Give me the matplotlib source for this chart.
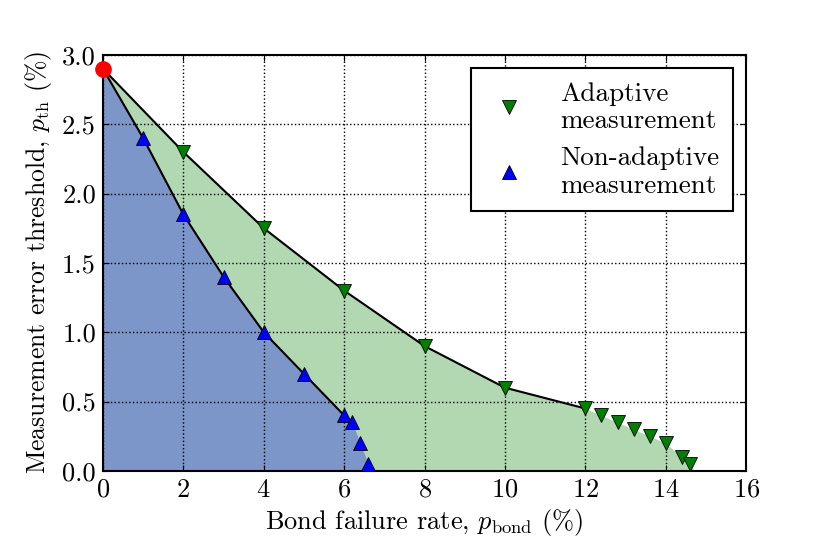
import matplotlib
matplotlib.use("Agg")
import matplotlib.pyplot as plt
import numpy as np

plt.rcParams['font.family'] = 'serif'
plt.rcParams['font.serif'] = ['cmr10']
plt.rcParams['mathtext.fontset'] = 'cm'
plt.rcParams['axes.formatter.use_mathtext'] = True
plt.rcParams['axes.unicode_minus'] = False

# Data
adaptive_x = [0, 2, 4, 6, 8, 10, 12, 12.4, 12.8, 13.2, 13.6, 14.0, 14.4, 14.6]
adaptive_y = [2.9, 2.3, 1.75, 1.3, 0.9, 0.6, 0.45, 0.40, 0.35, 0.30, 0.25, 0.20, 0.10, 0.05]
adaptive_line_n = 7  # points 0..12 used for black curve

nonad_x = [0, 1, 2, 3, 4, 5, 6, 6.2, 6.4, 6.6]
nonad_y = [2.9, 2.4, 1.85, 1.4, 1.0, 0.7, 0.4, 0.35, 0.2, 0.05]
nonad_line_n = 7  # points 0..6 used for black curve

start_x = [0]
start_y = [2.9]

x_ticks = [0, 2, 4, 6, 8, 10, 12, 14, 16]
y_ticks = [0.0, 0.5, 1.0, 1.5, 2.0, 2.5, 3.0]

fig = plt.figure(figsize=(8.3, 5.54), dpi=100)
ax = fig.add_axes([0.124, 0.15, 0.775, 0.751])

ax_fx = list(adaptive_x) + [adaptive_x[-1] + 0.1]
ax_fy = list(adaptive_y) + [0.0]
nx_fx = list(nonad_x) + [nonad_x[-1] + 0.1]
nx_fy = list(nonad_y) + [0.0]

ax.fill_between(ax_fx, ax_fy, 0, color='g', alpha=0.3, lw=0)
ax.fill_between(nx_fx, nx_fy, 0, color='b', alpha=0.3, lw=0)

ax.plot(adaptive_x[:adaptive_line_n], adaptive_y[:adaptive_line_n], 'k-', lw=1.5)
ax.plot(nonad_x[:nonad_line_n], nonad_y[:nonad_line_n], 'k-', lw=1.5)

ax.plot(adaptive_x[1:], adaptive_y[1:], 'gv', ms=10, mec='k', mew=0.6,
        label='Adaptive\nmeasurement', zorder=4)
ax.plot(nonad_x[1:], nonad_y[1:], 'b^', ms=10, mec='k', mew=0.6,
        label='Non-adaptive\nmeasurement', zorder=4)
ax.plot(start_x, start_y, 'ro', ms=11, mec='r', clip_on=False, zorder=5)

ax.set_xlim(0, 16)
ax.set_ylim(0, 3.0)
ax.set_xticks(x_ticks)
ax.set_yticks(y_ticks)
ax.set_yticklabels(['%.1f' % v for v in y_ticks])
ax.tick_params(direction='in', labelsize=19, length=4, top=True, right=True, pad=5)
ax.grid(True, color='k', linestyle=':', linewidth=1)
for s in ax.spines.values():
    s.set_linewidth(1.5)

ax.set_xlabel(r'Bond failure rate, $p_{\rm bond}$ (%)', fontsize=19, labelpad=4)
ax.set_ylabel(r'Measurement error threshold, $p_{\rm th}$ (%)', fontsize=18.5, labelpad=6)

leg = ax.legend(loc='upper right', numpoints=1, fontsize=19.5, fancybox=False,
                framealpha=1, edgecolor='k', borderpad=0.5, labelspacing=0.5,
                handlelength=1.8, handletextpad=1.0, borderaxespad=0.5)
leg.get_frame().set_linewidth(1.5)

fig.savefig('out.png', dpi=100)
